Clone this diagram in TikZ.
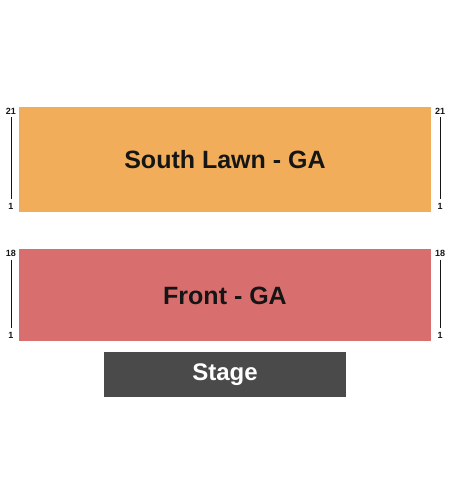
\documentclass[tikz,border=0pt]{standalone}
\usepackage{fontspec}
\setmainfont{Liberation Sans}
\definecolor{lawn}{HTML}{F2AD5A}
\definecolor{front}{HTML}{D96E6F}
\definecolor{stagec}{HTML}{4A4A4A}
\definecolor{ink}{HTML}{151515}
\begin{document}
\begin{tikzpicture}[x=1pt,y=-1pt,
  sect/.style={inner sep=0pt,outer sep=0pt},
  big/.style={font=\fontsize{25}{25}\selectfont\bfseries,text=ink},
  rowlbl/.style={font=\fontsize{9}{9}\selectfont\bfseries,text=ink,inner sep=0pt},
  rowline/.style={draw=ink,line width=0.8pt}]
\useasboundingbox (0,0) rectangle (450,500);
\fill[lawn] (19,107) rectangle (431,212);
\fill[front] (19,249) rectangle (431,341);
\fill[stagec] (104,352) rectangle (346,397);
\node[big] (lawn) at (225,159.5) {South Lawn - GA};
\node[big] (frontga) at (225,295.5) {Front - GA};
\node[big,text=white,font=\fontsize{24}{24}\selectfont\bfseries] (stage) at (225,374.5) {Stage};
% row labels
\foreach \x/\n in {11/l,440/r}{
  \node[rowlbl] (a\n) at (\x,111.5) {21};
  \node[rowlbl] (b\n) at (\x,206.5) {1};
  \draw[rowline] (\x,117.5) -- (\x,198.5);
  \node[rowlbl] (c\n) at (\x,253.5) {18};
  \node[rowlbl] (d\n) at (\x,335.5) {1};
  \draw[rowline] (\x,259.5) -- (\x,328);
}
\end{tikzpicture}
\end{document}
